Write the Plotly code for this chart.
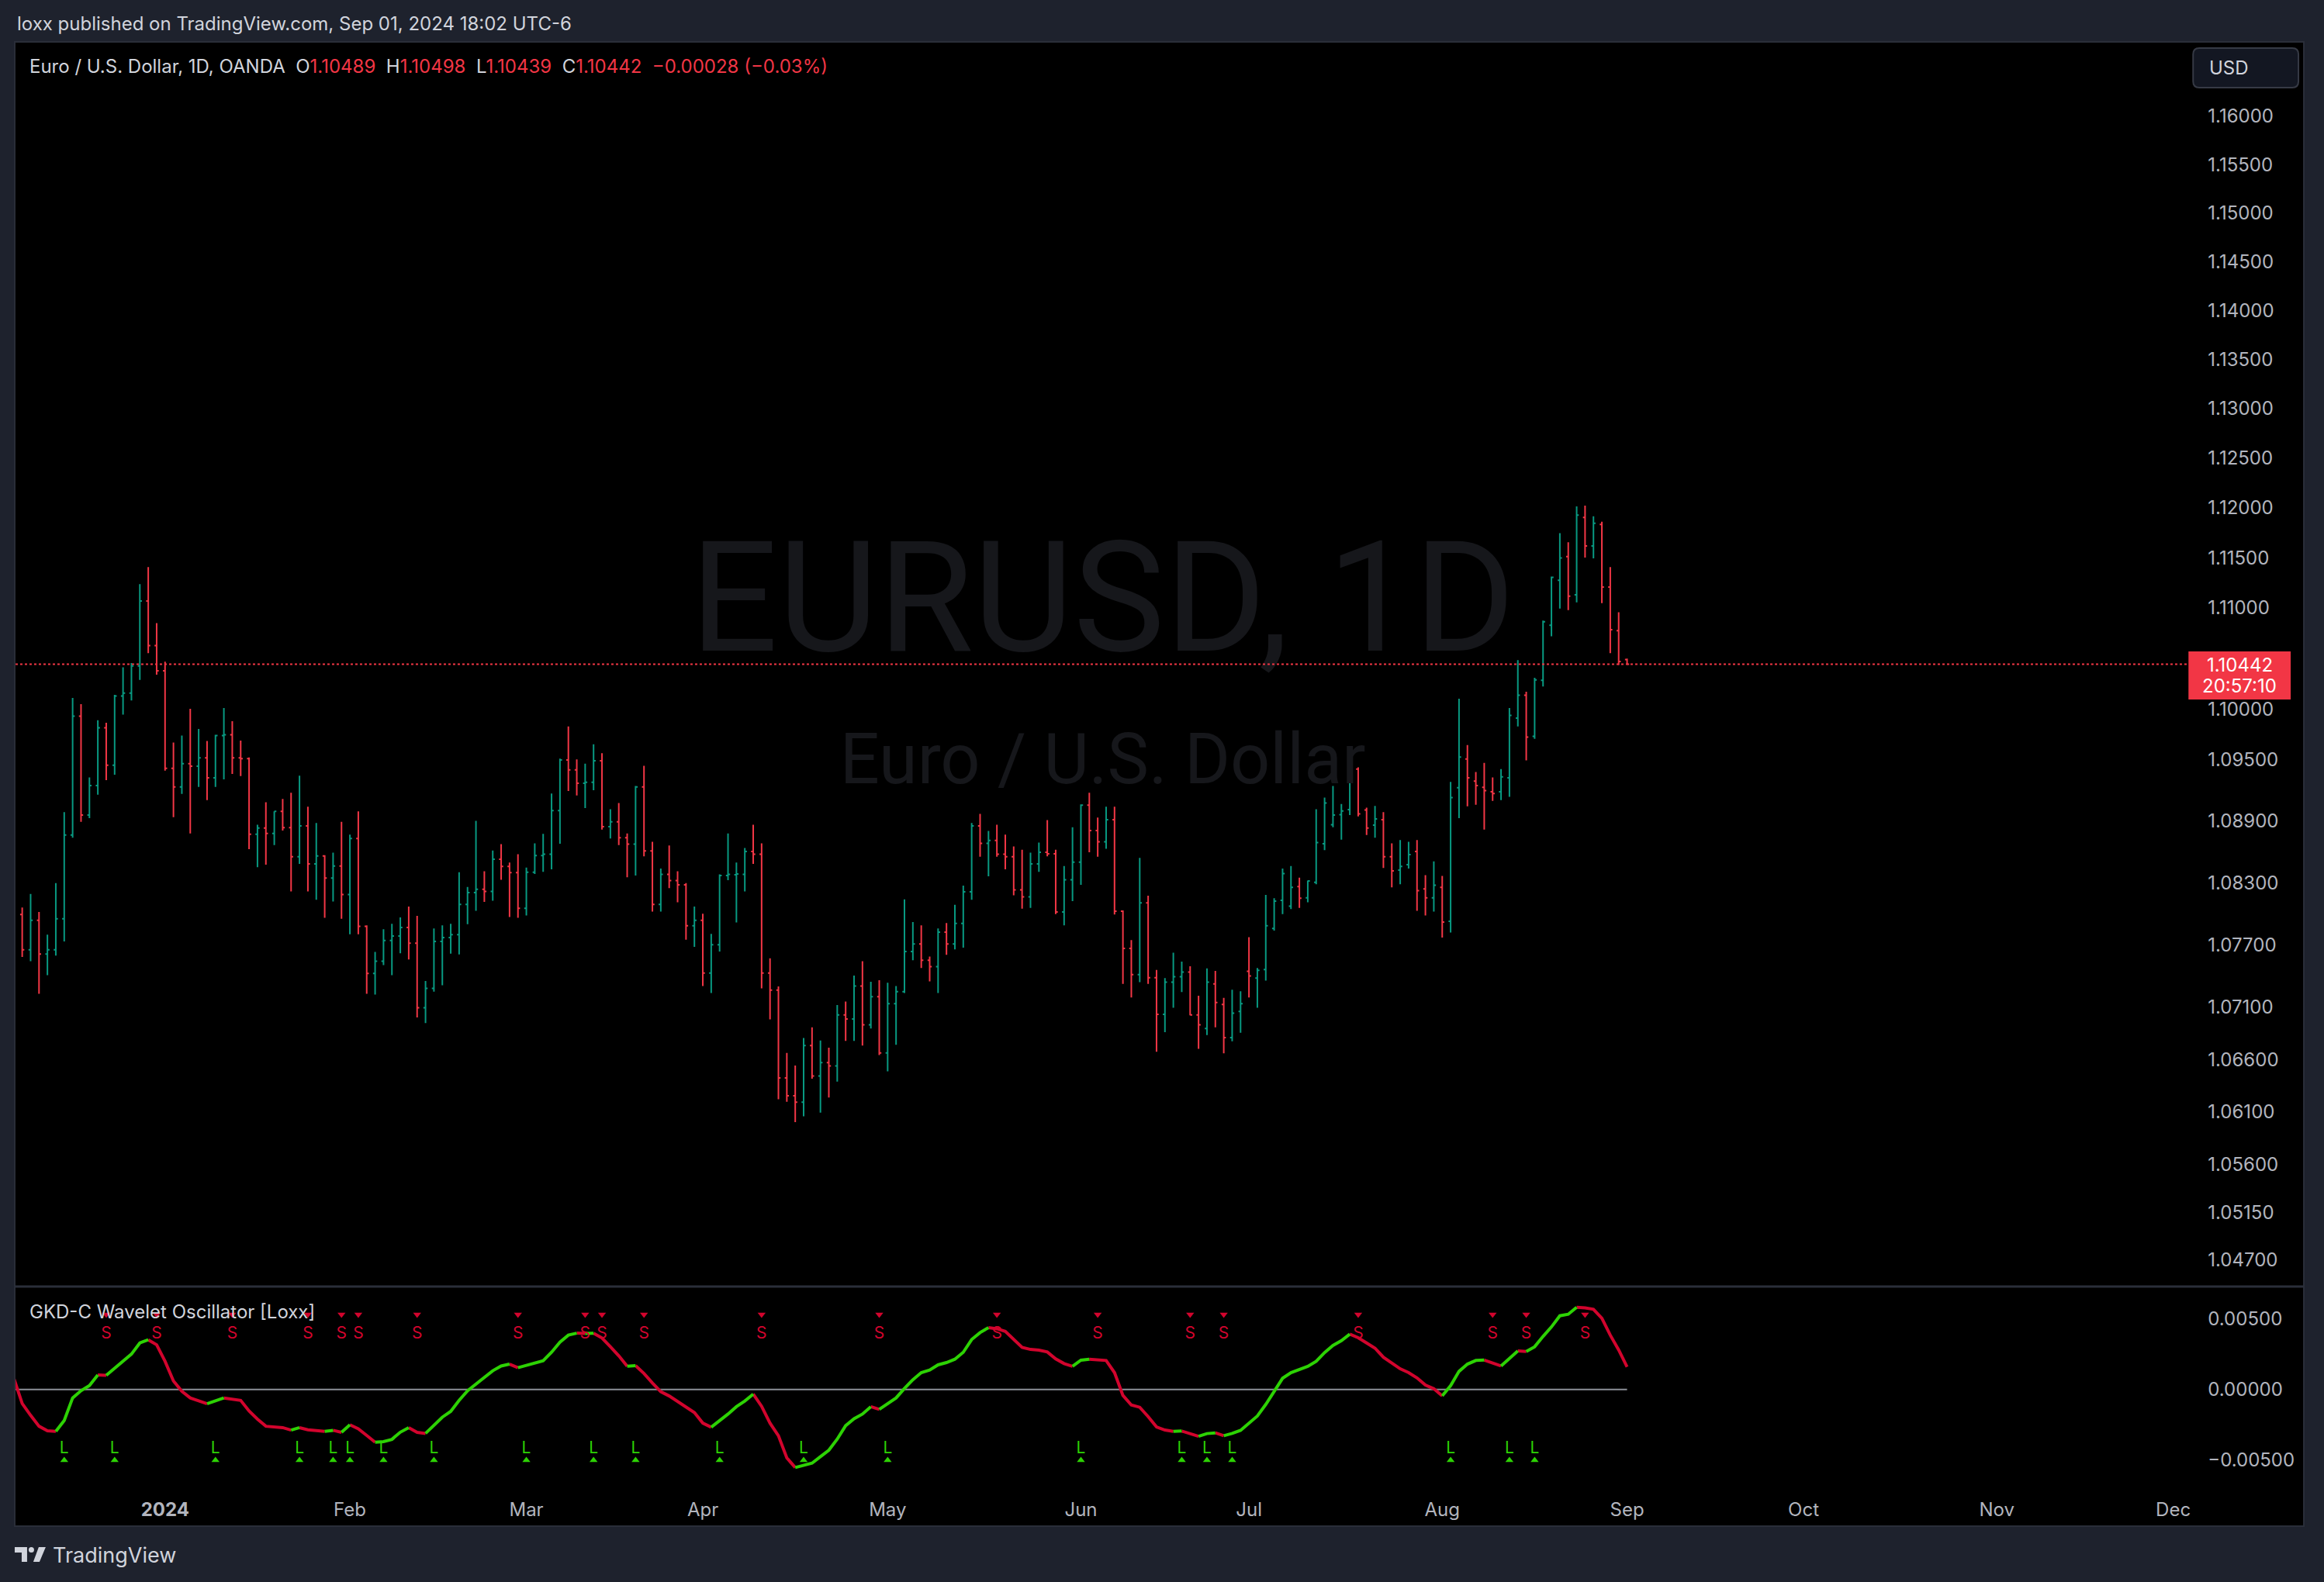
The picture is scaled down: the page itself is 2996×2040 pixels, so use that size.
import plotly.graph_objects as go
import pandas as pd

W, H = 2996, 2040

# ---------------- data ----------------
HOLIDAYS = ["2023-12-25", "2024-01-01"]
dates = [d for d in pd.bdate_range("2023-12-06", "2024-09-02") if d.strftime("%Y-%m-%d") not in HOLIDAYS]
future_dates = list(pd.bdate_range("2024-09-03", "2024-12-31"))

opens = [1.07993,1.07652,1.07937,1.07612,1.07652,1.07953,1.08765,1.09930,1.08960,1.09248,
         1.09816,1.09447,1.10129,1.10157,1.10425,1.11070,1.10628,1.10377,1.09418,1.09236,
         1.09463,1.09439,1.09520,1.09325,1.09739,1.09747,1.09520,1.09512,1.08773,1.08834,
         1.08781,1.08996,1.08838,1.08554,1.08854,1.08485,1.08562,1.08347,1.08464,1.08188,
         1.08732,1.07880,1.07425,1.07543,1.07742,1.07786,1.07868,1.07717,1.07095,1.07281,
         1.07734,1.07770,1.07799,1.08091,1.08205,1.08237,1.08217,1.08529,1.08460,1.08399,
         1.08054,1.08403,1.08566,1.08578,1.09004,1.09500,1.09402,1.09272,1.09280,1.09492,
         1.08846,1.08895,1.08740,1.08676,1.09236,1.08610,1.08091,1.08383,1.08322,1.08282,
         1.07884,1.07937,1.07429,1.07701,1.08371,1.08379,1.08383,1.08606,1.08578,1.07429,
         1.07265,1.06424,1.06253,1.06193,1.06733,1.06443,1.06570,1.06539,1.07027,1.06987,
         1.07303,1.06932,1.07202,1.06662,1.07134,1.07249,1.07636,1.07709,1.07551,1.07490,
         1.07823,1.07709,1.07908,1.08213,1.08854,1.08684,1.08712,1.08578,1.08554,1.08233,
         1.08164,1.08485,1.08598,1.08582,1.08018,1.08330,1.08501,1.09057,1.08809,1.08700,
         1.08915,1.08026,1.07665,1.07413,1.08107,1.07384,1.07031,1.07340,1.07393,1.07437,
         1.07027,1.06896,1.07324,1.07126,1.06809,1.07059,1.07445,1.07380,1.07462,1.07859,
         1.08131,1.08075,1.08265,1.08156,1.08306,1.08680,1.08866,1.08964,1.09013,1.09410,
         1.09009,1.08862,1.08915,1.08554,1.08424,1.08477,1.08606,1.08241,1.08156,1.08257,
         1.07928,1.09228,1.09508,1.09293,1.09232,1.09187,1.09187,1.09325,1.09910,1.10137,
         1.09731,1.10283,1.10830,1.11276,1.11512,1.11132,1.11904,1.11619,1.11834,1.11210,
         1.10776,1.10489]
highs = [1.08062,1.08192,1.08018,1.07799,1.08298,1.08988,1.10109,1.10048,1.09329,1.09889,
         1.09865,1.10141,1.10413,1.10454,1.11239,1.11408,1.10851,1.10467,1.09670,1.09739,
         1.10003,1.09804,1.09686,1.09747,1.10011,1.09881,1.09690,1.09524,1.08866,1.09086,
         1.08996,1.09118,1.09179,1.09345,1.09041,1.08883,1.08570,1.08594,1.08895,1.08769,
         1.08996,1.07888,1.07632,1.07851,1.07904,1.07965,1.08070,1.07981,1.07352,1.07859,
         1.07888,1.07904,1.08403,1.08261,1.08903,1.08412,1.08615,1.08676,1.08497,1.08578,
         1.08448,1.08684,1.08777,1.09171,1.09512,1.09829,1.09504,1.09463,1.09654,1.09565,
         1.09017,1.09077,1.08781,1.09244,1.09443,1.08700,1.08440,1.08663,1.08412,1.08298,
         1.08070,1.08002,1.07807,1.08383,1.08781,1.08497,1.08639,1.08866,1.08684,1.07571,
         1.07299,1.06662,1.06543,1.06805,1.06908,1.06781,1.06713,1.07122,1.07154,1.07405,
         1.07543,1.07344,1.07360,1.07336,1.07303,1.08140,1.07920,1.07888,1.07587,1.07859,
         1.07912,1.08087,1.08274,1.08883,1.08972,1.08805,1.08866,1.08769,1.08655,1.08623,
         1.08594,1.08692,1.08911,1.08623,1.08464,1.08842,1.09065,1.09179,1.08935,1.09041,
         1.09041,1.08034,1.07746,1.08542,1.08176,1.07458,1.07380,1.07624,1.07539,1.07494,
         1.07210,1.07474,1.07449,1.07190,1.07269,1.07253,1.07774,1.07478,1.08184,1.08152,
         1.08440,1.08464,1.08351,1.08322,1.09017,1.09130,1.09244,1.09069,1.09504,1.09427,
         1.09033,1.09049,1.08988,1.08684,1.08716,1.08700,1.08716,1.08375,1.08509,1.08367,
         1.09284,1.10101,1.09646,1.09382,1.09471,1.09329,1.09410,1.10011,1.10483,1.10170,
         1.10308,1.10876,1.11313,1.11747,1.11656,1.12015,1.12024,1.11916,1.11863,1.11408,
         1.10958,1.10498]
lows = [1.07583,1.07543,1.07230,1.07409,1.07596,1.07734,1.08740,1.08895,1.08931,1.09159,
        1.09301,1.09354,1.09946,1.10084,1.10287,1.10553,1.10340,1.09394,1.08939,1.09167,
        1.08781,1.09236,1.09106,1.09236,1.09309,1.09362,1.09341,1.08627,1.08452,1.08477,
        1.08667,1.08809,1.08217,1.08485,1.08217,1.08136,1.07961,1.08119,1.07953,1.07803,
        1.07803,1.07230,1.07222,1.07506,1.07409,1.07620,1.07559,1.07003,1.06948,1.07249,
        1.07311,1.07616,1.07608,1.07900,1.08030,1.08115,1.08127,1.08330,1.07969,1.07961,
        1.07985,1.08387,1.08408,1.08432,1.08680,1.09195,1.09151,1.09029,1.09203,1.08818,
        1.08732,1.08667,1.08355,1.08371,1.08558,1.08022,1.08022,1.08249,1.08111,1.07750,
        1.07681,1.07303,1.07237,1.07636,1.08326,1.07916,1.08217,1.08485,1.07281,1.06983,
        1.06221,1.06197,1.06003,1.06058,1.06416,1.06094,1.06237,1.06388,1.06777,1.06777,
        1.06733,1.06896,1.06642,1.06487,1.06741,1.07237,1.07551,1.07478,1.07348,1.07237,
        1.07604,1.07656,1.07673,1.08136,1.08554,1.08363,1.08554,1.08432,1.08180,1.08050,
        1.08058,1.08408,1.08558,1.07997,1.07888,1.08123,1.08282,1.08598,1.08554,1.08631,
        1.07993,1.07324,1.07194,1.07340,1.07324,1.06674,1.06860,1.07095,1.07245,1.07023,
        1.06702,1.06833,1.06908,1.06658,1.06773,1.06856,1.07194,1.07095,1.07356,1.07839,
        1.07997,1.08046,1.08058,1.08111,1.08286,1.08619,1.08842,1.08720,1.08960,1.08947,
        1.08765,1.08740,1.08444,1.08257,1.08286,1.08440,1.08030,1.07985,1.08022,1.07770,
        1.07819,1.08931,1.09045,1.09061,1.08818,1.09098,1.09106,1.09138,1.09829,1.09496,
        1.09707,1.10223,1.10719,1.10995,1.10979,1.11057,1.11503,1.11495,1.11049,1.10553,
        1.10435,1.10439]
closes = [1.07652,1.07937,1.07612,1.07652,1.07953,1.08765,1.09930,1.08960,1.09248,1.09816,
          1.09447,1.10129,1.10157,1.10425,1.11070,1.10628,1.10377,1.09418,1.09236,1.09463,
          1.09439,1.09520,1.09325,1.09739,1.09747,1.09520,1.09512,1.08773,1.08834,1.08781,
          1.08996,1.08838,1.08554,1.08854,1.08485,1.08562,1.08347,1.08464,1.08188,1.08732,
          1.07880,1.07425,1.07543,1.07742,1.07786,1.07868,1.07717,1.07095,1.07281,1.07734,
          1.07770,1.07799,1.08091,1.08205,1.08237,1.08217,1.08529,1.08460,1.08399,1.08054,
          1.08403,1.08566,1.08578,1.09004,1.09500,1.09402,1.09272,1.09280,1.09492,1.08846,
          1.08895,1.08740,1.08676,1.09236,1.08610,1.08091,1.08383,1.08322,1.08282,1.07884,
          1.07937,1.07429,1.07701,1.08371,1.08383,1.08387,1.08606,1.08578,1.07429,1.07265,
          1.06424,1.06253,1.06193,1.06733,1.06443,1.06570,1.06539,1.07027,1.06987,1.07303,
          1.06932,1.07202,1.06662,1.07134,1.07249,1.07636,1.07709,1.07551,1.07490,1.07823,
          1.07709,1.07908,1.08213,1.08854,1.08684,1.08712,1.08578,1.08554,1.08233,1.08164,
          1.08485,1.08598,1.08582,1.08018,1.08330,1.08501,1.09057,1.08809,1.08700,1.08915,
          1.08026,1.07665,1.07413,1.08107,1.07384,1.07031,1.07340,1.07393,1.07437,1.07027,
          1.06932,1.07340,1.07146,1.06809,1.07043,1.07134,1.07401,1.07454,1.07884,1.08123,
          1.08391,1.08257,1.08152,1.08318,1.08692,1.09077,1.08960,1.09001,1.09406,1.08972,
          1.08834,1.08923,1.08554,1.08416,1.08460,1.08574,1.08225,1.08156,1.08278,1.07920,
          1.09130,1.09528,1.09325,1.09248,1.09199,1.09171,1.09333,1.09938,1.10137,1.09723,
          1.10287,1.10863,1.11305,1.11499,1.11119,1.11929,1.11619,1.11846,1.11210,1.10785,
          1.10470,1.10442]

# oscillator values, in thousandths; the first value belongs to the bar just left of the view
osc_x1000 = [0.80,
             -1.00,-1.83,-2.60,-2.92,-2.96,-2.19,-0.60,-0.09,0.27,1.03,
             1.00,1.52,1.99,2.50,3.29,3.51,3.16,1.99,0.60,-0.13,
             -0.60,-0.80,-1.01,-0.80,-0.60,-0.69,-0.77,-1.52,-2.10,-2.60,
             -2.65,-2.70,-2.87,-2.70,-2.85,-2.91,-2.96,-2.89,-3.03,-2.50,
             -2.78,-3.25,-3.73,-3.69,-3.53,-3.02,-2.70,-3.03,-3.11,-2.50,
             -1.96,-1.55,-0.77,-0.09,0.40,0.82,1.32,1.66,1.79,1.54,
             1.70,1.88,2.03,2.63,3.34,3.84,3.98,3.96,3.97,3.64,
             3.02,2.38,1.64,1.68,1.13,0.46,-0.16,-0.46,-0.86,-1.28,
             -1.64,-2.38,-2.67,-2.23,-1.74,-1.22,-0.82,-0.33,-1.19,-2.38,
             -3.27,-4.84,-5.52,-5.35,-5.21,-4.75,-4.29,-3.51,-2.56,-2.07,
             -1.74,-1.22,-1.41,-1.01,-0.60,0.07,0.69,1.19,1.37,1.74,
             1.90,2.14,2.63,3.53,4.02,4.37,4.29,4.11,3.53,2.98,
             2.83,2.78,2.65,2.16,1.83,1.64,2.07,2.14,2.10,2.05,
             1.19,-0.42,-1.10,-1.26,-1.92,-2.65,-2.87,-2.96,-2.94,-3.14,
             -3.31,-3.12,-3.07,-3.27,-3.11,-2.89,-2.41,-1.88,-1.06,-0.13,
             0.79,1.19,1.43,1.63,1.99,2.61,3.11,3.45,3.91,3.66,
             3.29,2.92,2.28,1.88,1.46,1.19,0.82,0.31,0.05,-0.46,
             0.27,1.28,1.79,2.05,2.08,1.85,1.66,2.19,2.72,2.68,
             3.02,3.75,4.42,5.21,5.32,5.81,5.77,5.67,5.03,3.84,
             2.80,1.59]

short_bars = [10,16,25,34,38,40,47,59,67,69,74,88,102,116,128,139,143,159,175,179,186]
long_bars = [5,11,23,33,37,39,43,49,60,68,73,83,93,103,126,138,141,144,170,177,180]

price_ticks = [1.047,1.0515,1.056,1.061,1.066,1.071,1.077,1.083,1.089,1.095,1.10,
               1.11,1.115,1.12,1.125,1.13,1.135,1.14,1.145,1.15,1.155,1.16]
osc_ticks = [-0.005, 0.0, 0.005]
osc_tick_text = ["\u22120.00500", "0.00000", "0.00500"]

last_price = 1.10442
last_open, last_high, last_low = 1.10489, 1.10498, 1.10439
change, change_pct = -0.00028, -0.03
countdown = "20:57:10"

# ---------------- style ----------------
FONT = "Inter, Roboto, sans-serif"
BG = "#1e222d"
TXT = "#d1d4dc"
AXT = "#b2b5be"
UP, DN = "#089981", "#f23645"
OG, OR = "#2dd204", "#d2042d"

def PX(x): return x / W
def PY(y): return 1 - y / H

n = len(closes)
xs = list(range(n))
osc = [v / 1000.0 for v in osc_x1000]
osc_x = list(range(-1, n))

# month ticks (first bar of each month, plus projected future bars)
all_dates = dates + future_dates
tick_idx, tick_txt = [], []
for i in range(1, len(all_dates)):
    if all_dates[i].month != all_dates[i - 1].month:
        tick_idx.append(i)
        tick_txt.append("<b>%d</b>" % all_dates[i].year if all_dates[i].month == 1 else all_dates[i].strftime("%b"))

X_RANGE = [-0.80, 257.63]
Y_RANGE = [0.018951, 0.067355]
Y2_RANGE = [-0.006924, 0.007166]

fig = go.Figure()

# watermark (below bars)
WM_X = 128.6
fig.add_trace(go.Scatter(x=[WM_X], y=[1.1096], mode="text", text=["EURUSD, 1D"],
                         textfont=dict(family="Roboto", size=199, color="#16171b"),
                         hoverinfo="skip", cliponaxis=False, xaxis="x", yaxis="y"))
fig.add_trace(go.Scatter(x=[WM_X], y=[1.0944], mode="text", text=["Euro / U.S. Dollar"],
                         textfont=dict(family="Roboto", size=90, color="#16171b"),
                         hoverinfo="skip", cliponaxis=False, xaxis="x", yaxis="y"))
# last price dotted line
fig.add_trace(go.Scatter(x=[X_RANGE[0], X_RANGE[1]], y=[last_price, last_price], mode="lines",
                         line=dict(color=DN, width=2, dash="dot"), hoverinfo="skip",
                         xaxis="x", yaxis="y"))

fig.add_trace(go.Ohlc(x=xs, open=opens, high=highs, low=lows, close=closes,
                      increasing=dict(line=dict(color=UP, width=2)),
                      decreasing=dict(line=dict(color=DN, width=2)),
                      tickwidth=0.25, hoverinfo="skip", xaxis="x", yaxis="y"))

# zero line
fig.add_trace(go.Scatter(x=[X_RANGE[0], n - 1], y=[0, 0], mode="lines",
                         line=dict(color="#8c8f97", width=2), hoverinfo="skip",
                         xaxis="x2", yaxis="y2"))

def runs(xv, vals, rising):
    rx, ry = [], []
    prev = False
    for i in range(1, len(vals)):
        up = vals[i] > vals[i - 1]
        if up == rising:
            if not prev:
                rx.append(xv[i - 1]); ry.append(vals[i - 1])
            rx.append(xv[i]); ry.append(vals[i])
            prev = True
        else:
            if prev:
                rx.append(None); ry.append(None)
            prev = False
    return rx, ry

gx, gy = runs(osc_x, osc, True)
rx, ry = runs(osc_x, osc, False)
fig.add_trace(go.Scatter(x=rx, y=ry, mode="lines", line=dict(color=OR, width=4),
                         hoverinfo="skip", xaxis="x2", yaxis="y2"))
fig.add_trace(go.Scatter(x=gx, y=gy, mode="lines", line=dict(color=OG, width=4),
                         hoverinfo="skip", xaxis="x2", yaxis="y2"))

# signals
S_TRI_Y, S_TXT_Y, L_TXT_Y, L_TRI_Y = 0.0053, 0.0039, -0.0042, -0.0050
fig.add_trace(go.Scatter(x=short_bars, y=[S_TRI_Y] * len(short_bars), mode="markers",
                         marker=dict(symbol="triangle-down", size=9, color=OR),
                         hoverinfo="skip", xaxis="x2", yaxis="y2", cliponaxis=False))
fig.add_trace(go.Scatter(x=short_bars, y=[S_TXT_Y] * len(short_bars), mode="text",
                         text=["S"] * len(short_bars), textfont=dict(family=FONT, size=21, color=OR),
                         hoverinfo="skip", xaxis="x2", yaxis="y2", cliponaxis=False))
fig.add_trace(go.Scatter(x=long_bars, y=[L_TRI_Y] * len(long_bars), mode="markers",
                         marker=dict(symbol="triangle-up", size=9, color=OG),
                         hoverinfo="skip", xaxis="x2", yaxis="y2", cliponaxis=False))
fig.add_trace(go.Scatter(x=long_bars, y=[L_TXT_Y] * len(long_bars), mode="text",
                         text=["L"] * len(long_bars), textfont=dict(family=FONT, size=21, color=OG),
                         hoverinfo="skip", xaxis="x2", yaxis="y2", cliponaxis=False))

X_DOM = [PX(20), PX(2824)]
axis_font = dict(family=FONT, size=24, color=AXT)

fig.update_layout(
    width=W, height=H, margin=dict(l=0, r=0, t=0, b=0),
    paper_bgcolor=BG, plot_bgcolor="rgba(0,0,0,0)",
    showlegend=False, hovermode=False, dragmode=False,
    font=dict(family=FONT, color=TXT),
    xaxis=dict(domain=X_DOM, range=X_RANGE, anchor="y", showticklabels=False, showgrid=False,
               zeroline=False, showline=False, ticks="", rangeslider=dict(visible=False), fixedrange=True),
    yaxis=dict(domain=[PY(1658), PY(54)], type="log", range=Y_RANGE, side="right", anchor="x",
               tickmode="array", tickvals=price_ticks, ticktext=["%.5f" % v for v in price_ticks],
               tickfont=axis_font, showgrid=False, zeroline=False, showline=False, ticks="",
               ticklabelstandoff=26, fixedrange=True),
    xaxis2=dict(domain=X_DOM, range=X_RANGE, anchor="y2", tickmode="array", tickvals=tick_idx,
                ticktext=tick_txt, tickfont=axis_font, showgrid=False, zeroline=False, showline=False,
                ticks="", ticklabelstandoff=12, fixedrange=True),
    yaxis2=dict(domain=[PY(1918), PY(1661)], range=Y2_RANGE, side="right", anchor="x2",
                tickmode="array", tickvals=osc_ticks, ticktext=osc_tick_text, tickfont=axis_font,
                showgrid=False, zeroline=False, showline=False, ticks="", ticklabelstandoff=26,
                fixedrange=True),
)

shapes = [
    dict(type="rect", xref="paper", yref="paper", x0=PX(19), x1=PX(2975), y0=PY(1968), y1=PY(54),
         fillcolor="#000000", line=dict(color="#2a2e39", width=2), layer="below"),
    dict(type="line", xref="paper", yref="paper", x0=PX(19), x1=PX(2975), y0=PY(1659), y1=PY(1659),
         line=dict(color="#2a2e39", width=3)),
    dict(type="rect", xref="paper", yref="paper", x0=PX(2826), x1=PX(2958), y0=PY(902), y1=PY(840),
         fillcolor=DN, line=dict(width=0)),
]
# USD rounded box
x0, x1, y0, y1, r = 2832, 2968, 62, 113, 8
pth = ("M %f %f L %f %f Q %f %f %f %f L %f %f Q %f %f %f %f L %f %f Q %f %f %f %f L %f %f Q %f %f %f %f Z" % (
    PX(x0 + r), PY(y0), PX(x1 - r), PY(y0), PX(x1), PY(y0), PX(x1), PY(y0 + r),
    PX(x1), PY(y1 - r), PX(x1), PY(y1), PX(x1 - r), PY(y1),
    PX(x0 + r), PY(y1), PX(x0), PY(y1), PX(x0), PY(y1 - r),
    PX(x0), PY(y0 + r), PX(x0), PY(y0), PX(x0 + r), PY(y0)))
shapes.append(dict(type="path", xref="paper", yref="paper", path=pth, fillcolor="#131722",
                   line=dict(color="#363a45", width=2)))
# TradingView logo (approximate)
def poly(pts):
    return "M " + " L ".join("%f %f" % (PX(a), PY(b)) for a, b in pts) + " Z"
shapes.append(dict(type="path", xref="paper", yref="paper",
                   path=poly([(19, 1995), (35, 1995), (35, 2014), (28, 2014), (28, 2002), (19, 2002)]),
                   fillcolor="#d1d4dc", line=dict(width=0)))
shapes.append(dict(type="circle", xref="paper", yref="paper", x0=PX(37), x1=PX(44), y0=PY(2002), y1=PY(1995),
                   fillcolor="#d1d4dc", line=dict(width=0)))
shapes.append(dict(type="path", xref="paper", yref="paper",
                   path=poly([(50, 1995), (59, 1995), (51, 2014), (43, 2014)]),
                   fillcolor="#d1d4dc", line=dict(width=0)))
fig.update_layout(shapes=shapes)

NB = "\u00a0"
def c(t, col): return '<span style="color:%s">%s</span>' % (col, t)
legend = ("Euro / U.S. Dollar, 1D, OANDA" + NB * 2 +
          "O" + c("%.5f" % last_open, DN) + NB * 2 + "H" + c("%.5f" % last_high, DN) + NB * 2 +
          "L" + c("%.5f" % last_low, DN) + NB * 2 + "C" + c("%.5f" % last_price, DN) + NB * 2 +
          c("\u2212%.5f (\u2212%.2f%%)" % (abs(change), abs(change_pct)), DN))

ann = [
    dict(x=PX(20), y=PY(31), text="loxx published on TradingView.com, Sep 01, 2024 18:02 UTC-6",
         font=dict(size=24, color=TXT)),
    dict(x=PX(36), y=PY(86), text=legend, font=dict(size=24, color=TXT)),
    dict(x=PX(36), y=PY(1691), text="GKD-C Wavelet Oscillator [Loxx]", font=dict(size=24, color=TXT)),
    dict(x=PX(2851), y=PY(88), text="USD", font=dict(size=24, color=TXT)),
    dict(x=PX(2892), y=PY(857), text="%.5f" % last_price, font=dict(size=24, color="#ffffff"), xanchor="center"),
    dict(x=PX(2892), y=PY(884), text=countdown, font=dict(size=24, color="#ffffff"), xanchor="center"),
    dict(x=PX(66), y=PY(2005), text="TradingView", font=dict(size=27, color="#d1d4dc")),
]
for a in ann:
    a.setdefault("xanchor", "left")
    a.update(xref="paper", yref="paper", yanchor="middle", showarrow=False)
fig.update_layout(annotations=ann)

fig.write_html("out.html")
